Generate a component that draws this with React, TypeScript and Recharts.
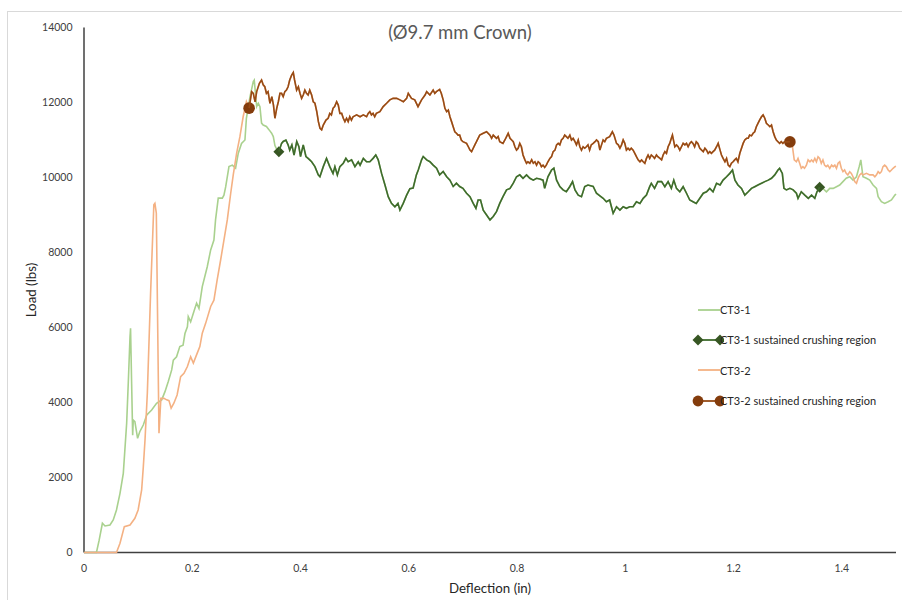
import React from "react";
import { LineChart, Line, XAxis, YAxis } from "recharts";

// deflection (in), load (lbs) pairs
const ct31Rise = [
  [0, 0], [0.023, 0], [0.028, 330], [0.034, 780], [0.0388, 707], [0.048, 733], [0.054, 867],
  [0.06, 1133], [0.0665, 1578], [0.0726, 2112], [0.0788, 3445], [0.082, 4600], [0.085, 5755],
  [0.086, 5980], [0.088, 4500], [0.0899, 3130], [0.091, 3530], [0.094, 3490], [0.099, 3045],
  [0.103, 3220], [0.1095, 3400], [0.116, 3670], [0.125, 3800], [0.134, 3980], [0.1435, 4070],
  [0.1496, 4290], [0.1557, 4560], [0.162, 4870], [0.165, 5130], [0.171, 5220], [0.177, 5490],
  [0.183, 5530], [0.1865, 5840], [0.191, 6020], [0.1926, 6290], [0.197, 6150], [0.202, 6380],
  [0.208, 6650], [0.2124, 6510], [0.2185, 7090], [0.2277, 7620], [0.234, 8070], [0.24, 8330],
  [0.243, 8870], [0.248, 9450], [0.2555, 9450], [0.2585, 9530], [0.2617, 9750], [0.2678, 10290],
  [0.274, 10330], [0.28, 10250], [0.285, 10650], [0.291, 10910], [0.2973, 11000], [0.3, 11580],
  [0.3066, 12150], [0.3127, 12560], [0.3145, 12600], [0.319, 11890], [0.322, 11980], [0.325, 11890],
  [0.328, 11450], [0.331, 11400], [0.337, 11360], [0.342, 11270], [0.3466, 11180], [0.3497, 11090],
  [0.3527, 10850], [0.356, 10750],
];

const ct31Crush = [
  [0.36, 10690], [0.365, 10910], [0.368, 10960], [0.373, 11000], [0.377, 10870], [0.38, 10730],
  [0.384, 10870], [0.388, 10600], [0.393, 10960], [0.397, 10820], [0.4, 10560], [0.405, 10870],
  [0.41, 10560], [0.414, 10510], [0.417, 10470], [0.4205, 10420], [0.4266, 10290], [0.4327, 10070],
  [0.4358, 10020], [0.442, 10290], [0.448, 10510], [0.454, 10290], [0.46, 10110], [0.4635, 10290],
  [0.468, 10070], [0.4727, 10290], [0.479, 10380], [0.4838, 10510], [0.488, 10420], [0.4943, 10470],
  [0.5005, 10290], [0.5066, 10420], [0.51, 10330], [0.516, 10510], [0.522, 10420], [0.528, 10420],
  [0.534, 10510], [0.539, 10600], [0.5435, 10470], [0.5497, 10110], [0.556, 9800], [0.562, 9490],
  [0.568, 9310], [0.5743, 9220], [0.58, 9310], [0.5836, 9130], [0.5897, 9310], [0.596, 9530],
  [0.602, 9700], [0.608, 9720], [0.614, 10070], [0.6175, 10200], [0.6236, 10470], [0.6266, 10560],
  [0.633, 10470], [0.639, 10420], [0.645, 10330], [0.6513, 10250], [0.657, 10070], [0.6635, 10160],
  [0.67, 10020], [0.676, 9930], [0.682, 9760], [0.688, 9850], [0.694, 9760], [0.7, 9710],
  [0.7067, 9580], [0.713, 9490], [0.719, 9310], [0.724, 9180], [0.728, 9400], [0.7325, 9400],
  [0.7375, 9130], [0.7437, 9000], [0.75, 8870], [0.756, 8960], [0.762, 9090], [0.768, 9310],
  [0.774, 9490], [0.7806, 9670], [0.787, 9710], [0.793, 9850], [0.799, 10020], [0.805, 10070],
  [0.811, 9980], [0.8175, 10070], [0.8236, 9980], [0.83, 9930], [0.836, 9980], [0.842, 9960],
  [0.848, 9930], [0.851, 9710], [0.857, 10020], [0.8637, 10200], [0.868, 10250], [0.873, 9930],
  [0.879, 9760], [0.885, 9670], [0.891, 9620], [0.8975, 9760], [0.9025, 9890], [0.907, 9670],
  [0.913, 9530], [0.919, 9490], [0.925, 9760], [0.931, 9800], [0.9406, 9760], [0.9467, 9580],
  [0.953, 9510], [0.959, 9445], [0.965, 9355], [0.971, 9400], [0.9775, 9045], [0.9837, 9220],
  [0.99, 9130], [0.996, 9220], [1.002, 9180], [1.008, 9220], [1.0144, 9220], [1.0205, 9355],
  [1.027, 9310], [1.033, 9445], [1.039, 9530], [1.045, 9755], [1.048, 9845], [1.054, 9710],
  [1.06, 9890], [1.067, 9890], [1.073, 9755], [1.079, 9890], [1.085, 9710], [1.0895, 9930],
  [1.0945, 9710], [1.1006, 9620], [1.1068, 9755], [1.113, 9580], [1.119, 9400], [1.125, 9355],
  [1.131, 9310], [1.1376, 9445], [1.144, 9580], [1.15, 9620], [1.156, 9710], [1.162, 9620],
  [1.1685, 9845], [1.175, 9800], [1.1806, 9930], [1.187, 10020], [1.193, 10110], [1.198, 10200],
  [1.2025, 9930], [1.208, 9800], [1.2146, 9710], [1.2207, 9530], [1.227, 9620], [1.233, 9710],
  [1.239, 9755], [1.245, 9800], [1.2515, 9845], [1.2576, 9890], [1.264, 9930], [1.27, 9980],
  [1.276, 10070], [1.282, 10200], [1.285, 10245], [1.29, 10110], [1.293, 9710], [1.2976, 9670],
  [1.304, 9710], [1.31, 9670], [1.316, 9580], [1.319, 9445], [1.325, 9620], [1.3315, 9530],
  [1.338, 9445], [1.344, 9530], [1.35, 9445], [1.354, 9620], [1.359, 9740],
];

const ct31Tail = [
  [1.365, 9710], [1.3715, 9620], [1.3776, 9710], [1.384, 9710], [1.39, 9755], [1.396, 9800],
  [1.402, 9890], [1.408, 9980], [1.4145, 10020], [1.4206, 9930], [1.427, 10020], [1.432, 10290],
  [1.435, 10470], [1.439, 10020], [1.4454, 9980], [1.4515, 9930], [1.4576, 9800], [1.464, 9710],
  [1.467, 9490], [1.473, 9355], [1.479, 9310], [1.4855, 9355], [1.4916, 9400], [1.498, 9530],
  [1.5, 9560],
];

const ct32Rise = [
  [0, 0], [0.06, 0], [0.0665, 245], [0.0745, 690], [0.085, 733], [0.094, 912], [0.1, 1133],
  [0.1065, 1667], [0.1096, 2290], [0.1127, 3000], [0.117, 4250], [0.123, 6910], [0.129, 9270],
  [0.131, 9310], [0.1336, 9050], [0.1385, 3180], [0.142, 4110], [0.1477, 4110], [0.1527, 4070],
  [0.157, 4050], [0.161, 3850], [0.166, 3980], [0.172, 4200], [0.1785, 4690], [0.1847, 4780],
  [0.191, 4960], [0.197, 5220], [0.202, 5050], [0.209, 5310], [0.214, 5490], [0.2185, 5850],
  [0.2247, 6110], [0.234, 6560], [0.24, 6730], [0.246, 7270], [0.2524, 7800], [0.2585, 8330],
  [0.2647, 8870], [0.271, 9580], [0.2757, 10070], [0.282, 10650], [0.288, 11090], [0.294, 11620],
  [0.3, 12020],
];

const ct32Crush = [
  [0.305, 11850], [0.3097, 12290], [0.3127, 12245], [0.316, 12020], [0.319, 12290], [0.324, 12510],
  [0.328, 12600], [0.331, 12470], [0.334, 12420], [0.337, 12245], [0.34, 12290], [0.3435, 11980],
  [0.347, 12155], [0.35, 11930], [0.3527, 11580], [0.356, 11845], [0.359, 12020], [0.362, 12245],
  [0.365, 12245], [0.368, 12155], [0.371, 12290], [0.374, 12330], [0.377, 12420], [0.38, 12600],
  [0.3836, 12730], [0.3866, 12800], [0.389, 12600], [0.3928, 12330], [0.396, 12420], [0.399, 12245],
  [0.402, 12110], [0.405, 12200], [0.408, 12330], [0.411, 12245], [0.414, 12200], [0.417, 12330],
  [0.4205, 12200], [0.4235, 12020], [0.4266, 11980], [0.43, 11755], [0.433, 11490], [0.436, 11310],
  [0.439, 11270], [0.442, 11400], [0.447, 11530], [0.451, 11580], [0.454, 11710], [0.457, 11670],
  [0.46, 11845], [0.463, 11890], [0.4667, 12020], [0.4697, 11930], [0.4727, 11710], [0.476, 11710],
  [0.479, 11580], [0.482, 11490], [0.485, 11580], [0.488, 11490], [0.491, 11620], [0.494, 11530],
  [0.497, 11620], [0.5036, 11670], [0.51, 11620], [0.516, 11670], [0.522, 11620], [0.525, 11710],
  [0.528, 11755], [0.531, 11670], [0.534, 11710], [0.537, 11620], [0.54, 11710], [0.5466, 11755],
  [0.5527, 11890], [0.559, 11980], [0.565, 12070], [0.571, 12110], [0.5775, 12110], [0.5836, 12070],
  [0.59, 12020], [0.596, 12110], [0.599, 12245], [0.605, 12110], [0.611, 12070], [0.617, 11890],
  [0.6236, 12070], [0.63, 12200], [0.633, 12290], [0.639, 12200], [0.645, 12330], [0.648, 12245],
  [0.651, 12290], [0.657, 12350], [0.66, 12245], [0.6635, 12070], [0.6667, 11845], [0.67, 11755],
  [0.673, 11800], [0.676, 11620], [0.679, 11490], [0.682, 11355], [0.685, 11220], [0.688, 11180],
  [0.691, 11130], [0.694, 11130], [0.697, 11000], [0.7, 10955], [0.7067, 10910], [0.71, 10820],
  [0.713, 10730], [0.716, 10690], [0.719, 10780], [0.722, 10870], [0.725, 10955], [0.728, 11045],
  [0.731, 11130], [0.7375, 11180], [0.7437, 11220], [0.75, 11130], [0.753, 11045], [0.756, 11130],
  [0.762, 11045], [0.765, 11090], [0.768, 10955], [0.774, 10910], [0.7775, 11000], [0.7806, 11090],
  [0.7836, 11180], [0.787, 11045], [0.79, 11000], [0.793, 10955], [0.796, 10820], [0.799, 10730],
  [0.802, 10780], [0.805, 10910], [0.808, 10820], [0.811, 10600], [0.8145, 10470], [0.8175, 10380],
  [0.82, 10420], [0.8236, 10380], [0.827, 10470], [0.83, 10380], [0.833, 10420], [0.836, 10330],
  [0.839, 10420], [0.842, 10380], [0.845, 10290], [0.848, 10330], [0.851, 10270], [0.854, 10330],
  [0.857, 10420], [0.8606, 10510], [0.8637, 10555], [0.8667, 10690], [0.87, 10730], [0.873, 10870],
  [0.876, 10910], [0.879, 10870], [0.882, 11000], [0.885, 11045], [0.888, 11130], [0.891, 11090],
  [0.894, 11045], [0.8975, 11130], [0.9005, 11000], [0.9036, 11045], [0.907, 10955], [0.9097, 10870],
  [0.913, 11000], [0.916, 10820], [0.919, 10730], [0.922, 10820], [0.925, 10780], [0.928, 10820],
  [0.931, 10870], [0.934, 10730], [0.937, 10870], [0.9406, 10910], [0.944, 10955], [0.9467, 11000],
  [0.95, 10955], [0.953, 10733], [0.956, 10870], [0.959, 11000], [0.962, 10955], [0.965, 11045],
  [0.971, 11090], [0.976, 11220], [0.979, 11130], [0.9837, 10910], [0.987, 10870], [0.99, 10780],
  [0.993, 10870], [0.996, 11000], [0.999, 10910], [1.002, 10730], [1.005, 10780], [1.008, 10730],
  [1.011, 10780], [1.0144, 10730], [1.0175, 10645], [1.0205, 10555], [1.0236, 10470], [1.027, 10420],
  [1.03, 10470], [1.033, 10420], [1.036, 10380], [1.039, 10510], [1.042, 10600], [1.045, 10510],
  [1.048, 10600], [1.0515, 10555], [1.054, 10510], [1.0575, 10600], [1.06, 10555], [1.064, 10510],
  [1.067, 10470], [1.0698, 10600], [1.073, 10690], [1.076, 10645], [1.079, 10820], [1.082, 10910],
  [1.085, 11045], [1.087, 11130], [1.0895, 10955], [1.0914, 10820], [1.0945, 10870], [1.0975, 10820],
  [1.1006, 10730], [1.1037, 10820], [1.1068, 10910], [1.11, 10870], [1.113, 10910], [1.116, 10820],
  [1.119, 10910], [1.122, 10955], [1.125, 10910], [1.128, 10820], [1.131, 10955], [1.134, 10910],
  [1.1376, 10780], [1.141, 10730], [1.144, 10690], [1.147, 10780], [1.15, 10730], [1.153, 10645],
  [1.156, 10690], [1.159, 10645], [1.162, 10690], [1.165, 10730], [1.1685, 10820], [1.1715, 10910],
  [1.175, 10730], [1.1776, 10600], [1.1806, 10510], [1.184, 10420], [1.187, 10510], [1.19, 10330],
  [1.193, 10290], [1.196, 10380], [1.199, 10420], [1.202, 10470], [1.205, 10510], [1.208, 10420],
  [1.2115, 10645], [1.2146, 10780], [1.2176, 10910], [1.2207, 11000], [1.224, 11045], [1.227, 11045],
  [1.2296, 11130], [1.233, 11110], [1.236, 11180], [1.239, 11220], [1.242, 11355], [1.245, 11445],
  [1.248, 11530], [1.2515, 11620], [1.2545, 11670], [1.2576, 11580], [1.2606, 11445], [1.264, 11400],
  [1.267, 11355], [1.27, 11400], [1.273, 11220], [1.276, 11090], [1.279, 11000], [1.282, 10955],
  [1.285, 10910], [1.288, 10955], [1.291, 10910], [1.294, 10955], [1.304, 10950],
];

const ct32Tail = [
  [1.308, 10900], [1.312, 10470], [1.316, 10420], [1.319, 10510], [1.322, 10380], [1.325, 10245],
  [1.328, 10290], [1.331, 10245], [1.3345, 10330], [1.3376, 10470], [1.341, 10420], [1.344, 10470],
  [1.347, 10420], [1.35, 10510], [1.353, 10420], [1.356, 10555], [1.359, 10510], [1.362, 10380],
  [1.365, 10470], [1.368, 10330], [1.371, 10290], [1.374, 10330], [1.3776, 10245], [1.381, 10330],
  [1.384, 10290], [1.387, 10330], [1.39, 10245], [1.393, 10380], [1.396, 10420], [1.399, 10245],
  [1.402, 10155], [1.405, 10200], [1.408, 10110], [1.411, 10070], [1.4145, 10155], [1.4175, 10110],
  [1.4206, 10020], [1.4237, 9890], [1.427, 9845], [1.43, 9980], [1.433, 10070], [1.436, 10110],
  [1.439, 10070], [1.4454, 10110], [1.4515, 10070], [1.4576, 10070], [1.461, 10020], [1.464, 10070],
  [1.467, 10155], [1.47, 10110], [1.473, 10155], [1.476, 10290], [1.479, 10330], [1.482, 10290],
  [1.4855, 10200], [1.4886, 10155], [1.4916, 10200], [1.4946, 10245], [1.498, 10290], [1.5, 10300],
];

const xTicks = [0, 0.2, 0.4, 0.6, 0.8, 1, 1.2, 1.4];
const yTicks = [0, 2000, 4000, 6000, 8000, 10000, 12000, 14000];

const FONT = "Lato, 'Open Sans', sans-serif";
const LIGHT_GREEN = "#a9d18e";
const DARK_GREEN_LINE = "#3f6b2d";
const DARK_GREEN = "#375623";
const LIGHT_ORANGE = "#f4b183";
const BROWN_LINE = "#964b16";
const BROWN = "#843c0c";

const toPts = (arr: number[][]) => arr.map(([x, y]) => ({ x, y }));

const ct31 = toPts([...ct31Rise, ...ct31Crush, ...ct31Tail]);
const ct31Sus = toPts(ct31Crush);
const ct32 = toPts([...ct32Rise, ...ct32Crush, ...ct32Tail]);
const ct32Sus = toPts(ct32Crush);

const Diamond = ({ cx, cy, s = 5, fill }: any) => (
  <path d={`M${cx},${cy - s} L${cx + s},${cy} L${cx},${cy + s} L${cx - s},${cy} Z`} fill={fill} />
);

// only the first and last point of a crushing region get a marker
const endDots = (kind: "diamond" | "circle", len: number) => (props: any) => {
  const { cx, cy, index } = props;
  if (index !== 0 && index !== len - 1) return <g key={`d${index}`} />;
  if (kind === "diamond") return <Diamond key={`d${index}`} cx={cx} cy={cy} s={5.5} fill={DARK_GREEN} />;
  return <circle key={`d${index}`} cx={cx} cy={cy} r={5.8} fill={BROWN} />;
};

const legendItems = [
  { label: "CT3-1", color: LIGHT_GREEN, marker: null },
  { label: "CT3-1 sustained crushing region", color: DARK_GREEN_LINE, marker: "diamond" },
  { label: "CT3-2", color: LIGHT_ORANGE, marker: null },
  { label: "CT3-2 sustained crushing region", color: BROWN_LINE, marker: "circle" },
];

function ChartLegend() {
  return (
    <div style={{ position: "absolute", left: 692, top: 294.5 }}>
      {legendItems.map((it) => (
        <div key={it.label} style={{ display: "flex", alignItems: "center", height: 30.3 }}>
          <svg width={32} height={14} style={{ marginRight: -1 }}>
            <line x1={6} y1={7} x2={28} y2={7} stroke={it.color} strokeWidth={1.8} />
            {it.marker === "diamond" && (
              <>
                <Diamond cx={6} cy={7} s={5.5} fill={DARK_GREEN} />
                <Diamond cx={28} cy={7} s={5.5} fill={DARK_GREEN} />
              </>
            )}
            {it.marker === "circle" && (
              <>
                <circle cx={6} cy={7} r={5.4} fill={BROWN} />
                <circle cx={28} cy={7} r={5.4} fill={BROWN} />
              </>
            )}
          </svg>
          <span style={{ fontFamily: FONT, fontSize: 11, color: "#262626", marginLeft: -3 }}>{it.label}</span>
        </div>
      ))}
    </div>
  );
}

export default function App() {
  const tick = { fontSize: 10.5, fill: "#404040", fontFamily: FONT };
  const lineProps: any = { dataKey: "y", type: "linear", strokeWidth: 1.6, isAnimationActive: false, zIndex: 600 };
  return (
    <div style={{ position: "absolute", left: 0, top: 0, width: 902, height: 600, overflow: "hidden", background: "#fff" }}>
      {/* chart frame */}
      <div style={{ position: "absolute", left: 7, top: 11, width: 1000, height: 1000, border: "1px solid #d9d9d9" }} />

      <LineChart width={902} height={600} margin={{ top: 27.5, right: 6, bottom: 17.5, left: 0 }}>
        <XAxis
          type="number"
          dataKey="x"
          domain={[0, 1.5]}
          ticks={xTicks}
          height={30}
          tickLine={false}
          tickMargin={6.5}
          axisLine={{ stroke: "#404040", strokeWidth: 1.5 }}
          tick={tick}
        />
        <YAxis
          type="number"
          dataKey="y"
          domain={[0, 14000]}
          ticks={yTicks}
          width={84}
          tickLine={false}
          tickMargin={5.5}
          axisLine={{ stroke: "#404040", strokeWidth: 1.5 }}
          tick={tick}
        />
        <Line {...lineProps} data={ct31} stroke={LIGHT_GREEN} dot={false} />
        <Line {...lineProps} data={ct31Sus} stroke={DARK_GREEN_LINE} dot={endDots("diamond", ct31Sus.length)} activeDot={false} />
        <Line {...lineProps} data={ct32} stroke={LIGHT_ORANGE} dot={false} />
        <Line {...lineProps} data={ct32Sus} stroke={BROWN_LINE} dot={endDots("circle", ct32Sus.length)} activeDot={false} />
      </LineChart>

      <div style={{ position: "absolute", left: 310, top: 21, width: 300, textAlign: "center", fontFamily: FONT, fontSize: 18.5, color: "#595959" }}>
        (Ø9.7 mm Crown)
      </div>
      <div style={{ position: "absolute", left: 390, top: 580, width: 200, textAlign: "center", fontFamily: FONT, fontSize: 13.3, color: "#262626" }}>
        Deflection (in)
      </div>
      <div
        style={{
          position: "absolute", left: 31, top: 290, width: 120, textAlign: "center",
          transform: "translate(-50%, -50%) rotate(-90deg)", fontFamily: FONT, fontSize: 13.3, color: "#262626",
        }}
      >
        Load (lbs)
      </div>
      <ChartLegend />
    </div>
  );
}
